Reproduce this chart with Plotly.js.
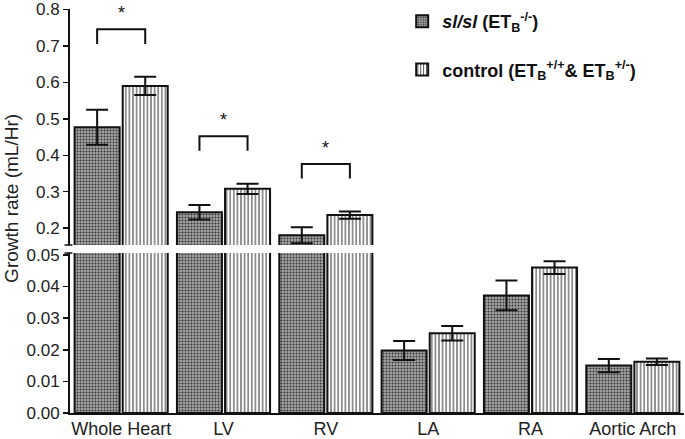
<!DOCTYPE html>
<html>
<head>
<meta charset="utf-8">
<script src="https://cdn.plot.ly/plotly-3.0.1.min.js"></script>
<style>html,body{margin:0;padding:0;background:#fff;}</style>
</head>
<body>
<div id="chart" style="width:685px;height:439px;"></div>
<script>
const categories = ["Whole Heart", "LV", "RV", "LA", "RA", "Aortic Arch"];
const slValues   = [0.477, 0.244, 0.181, 0.0198, 0.0372, 0.0150];
const slErrors   = [0.048, 0.020, 0.022, 0.0030, 0.0047, 0.0021];
const ctrlValues = [0.590, 0.308, 0.236, 0.0252, 0.0460, 0.0162];
const ctrlErrors = [0.025, 0.014, 0.010, 0.0023, 0.0020, 0.0010];
const sigCategories = ["Whole Heart", "LV", "RV"];
const sigLabels = ["*", "*", "*"];
const slName = "<b><i>sl/sl</i> (ET<sub>B</sub><sup>-/-</sup>)</b>";
const ctrlName = "<b>control (ET<sub>B</sub><sup>+/+</sup>& ET<sub>B</sub><sup>+/-</sup>)</b>";

const lowMax = 0.0506;   // bottom (broken) axis upper limit
const highMin = 0.154;   // top axis lower limit
const highMax = 0.8008;
const font = "Liberation Sans, Arial, sans-serif";
const bargap = 0.06;

const slPattern = {shape: ".", size: 3, solidity: 0.33, fgcolor: "#333", bgcolor: "#a4a4a4"};
const ctrlPattern = {shape: "|", size: 3.6, solidity: 0.28, fgcolor: "#333", bgcolor: "#ffffff"};
const lineStyle = {color: "#111", width: 2};
const errStyle = {color: "#111", thickness: 2, width: 11};

function highPart(vals) { return vals.map(v => v > lowMax ? v : null); }
function highErr(vals, errs) { return errs.map((e, i) => vals[i] > lowMax ? e : NaN); }
function lowErr(vals, errs) { return errs.map((e, i) => vals[i] > lowMax ? NaN : e); }

const traces = [
  {type: "bar", x: categories, y: slValues, xaxis: "x", yaxis: "y2", name: slName,
   legendgroup: "a", marker: {pattern: slPattern, line: lineStyle},
   error_y: Object.assign({type: "data", array: lowErr(slValues, slErrors), visible: true}, errStyle)},
  {type: "bar", x: categories, y: ctrlValues, xaxis: "x", yaxis: "y2", name: ctrlName,
   legendgroup: "b", marker: {pattern: ctrlPattern, line: lineStyle},
   error_y: Object.assign({type: "data", array: lowErr(ctrlValues, ctrlErrors), visible: true}, errStyle)},
  {type: "bar", x: categories, y: highPart(slValues), xaxis: "x", yaxis: "y", showlegend: false,
   legendgroup: "a", marker: {pattern: slPattern, line: lineStyle},
   error_y: Object.assign({type: "data", array: highErr(slValues, slErrors), visible: true}, errStyle)},
  {type: "bar", x: categories, y: highPart(ctrlValues), xaxis: "x", yaxis: "y", showlegend: false,
   legendgroup: "b", marker: {pattern: ctrlPattern, line: lineStyle},
   error_y: Object.assign({type: "data", array: highErr(ctrlValues, ctrlErrors), visible: true}, errStyle)}
];

const off = (1 - bargap) / 4;
const shapes = [];
const annotations = [];
sigCategories.forEach((c, k) => {
  const i = categories.indexOf(c);
  const m = Math.max(slValues[i] + slErrors[i], ctrlValues[i] + ctrlErrors[i]);
  const legY = m + 0.09, topY = m + 0.13;
  shapes.push({type: "path", xref: "x", yref: "y",
    path: `M${i - off},${legY} L${i - off},${topY} L${i + off},${topY} L${i + off},${legY}`,
    line: {color: "#111", width: 2}});
  annotations.push({x: i, y: topY + 0.012, xref: "x", yref: "y", text: sigLabels[k],
    showarrow: false, yanchor: "bottom", font: {family: font, size: 18, color: "#111"}});
});
// axis break marks
shapes.push({type: "line", xref: "paper", yref: "y domain", x0: -0.009, x1: 0.004, y0: 0, y1: 0, line: {color: "#111", width: 1.5}});
shapes.push({type: "line", xref: "paper", yref: "y2 domain", x0: -0.009, x1: 0.004, y0: 1, y1: 1, line: {color: "#111", width: 1.5}});

annotations.push({xref: "paper", yref: "paper", x: 0, xshift: -58, y: 0.53, text: "Growth rate (mL/Hr)",
  textangle: -90, showarrow: false, xanchor: "center", yanchor: "middle",
  font: {family: font, size: 19, color: "#222"}});

const axisCommon = {showline: true, linecolor: "#111", linewidth: 2, ticks: "outside", ticklen: 5,
  tickwidth: 1.5, tickcolor: "#111", showgrid: false, zeroline: false, anchor: "x",
  ticklabeloverflow: "allow",
  tickfont: {family: font, size: 17, color: "#222"}};

const layout = {
  width: 685, height: 439,
  margin: {l: 70, r: 1, t: 9, b: 26},
  paper_bgcolor: "#fff", plot_bgcolor: "#fff",
  barmode: "group", bargap: bargap, bargroupgap: 0.064,
  showlegend: true,
  legend: {x: 0.541, y: 1.015, xanchor: "left", yanchor: "top", traceorder: "grouped",
    tracegroupgap: 22, bgcolor: "rgba(0,0,0,0)", font: {family: font, size: 18, color: "#111"}},
  xaxis: {type: "category", anchor: "y2", range: [-0.5, 5.5], showline: true, linecolor: "#111",
    linewidth: 2, ticks: "", showgrid: false, zeroline: false, ticklabelstandoff: -2,
    tickfont: {family: font, size: 18, color: "#222"}},
  yaxis: Object.assign({}, axisCommon, {domain: [0.4158, 1], range: [highMin, highMax], dtick: 0.1, tick0: 0, tickformat: ".1f"}),
  yaxis2: Object.assign({}, axisCommon, {domain: [0, 0.396], range: [0, lowMax], dtick: 0.01, tick0: 0, tickformat: ".2f"}),
  shapes: shapes,
  annotations: annotations
};

Plotly.newPlot("chart", traces, layout, {displayModeBar: false, staticPlot: true});
</script>
</body>
</html>
